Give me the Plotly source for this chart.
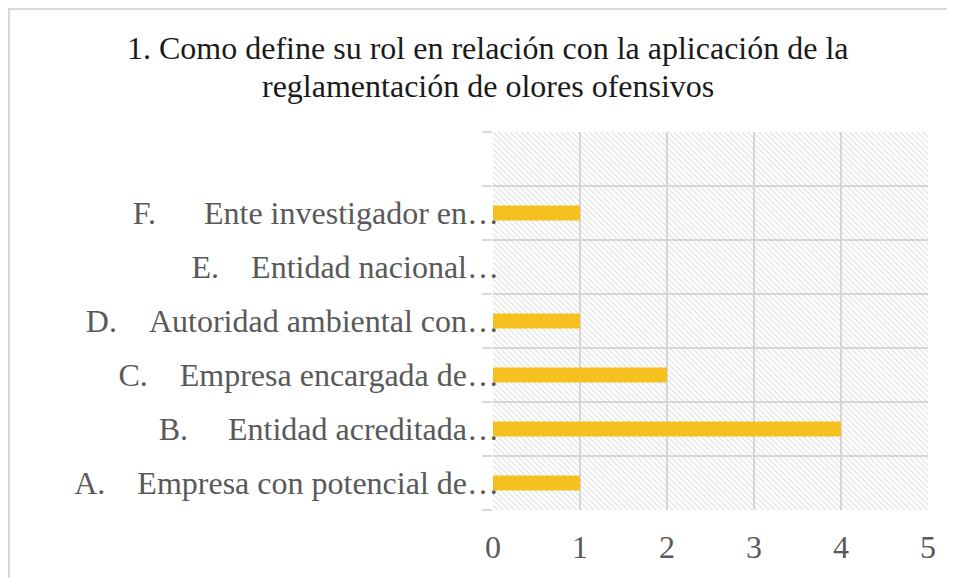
import plotly.graph_objects as go

NB = "\u00a0"
categories = [
    "A." + NB * 4 + "Empresa con potencial de…",
    "B." + NB * 5 + "Entidad acreditada…",
    "C." + NB * 4 + "Empresa encargada de…",
    "D." + NB * 4 + "Autoridad ambiental con…",
    "E." + NB * 4 + "Entidad nacional…",
    "F." + NB * 6 + "Ente investigador en…",
]
values = [1, 4, 2, 1, 0, 1]
x_ticks = [0, 1, 2, 3, 4, 5]
title_lines = [
    "1. Como define su rol en relación con la aplicación de la",
    "reglamentación de olores ofensivos",
]

n_bands = len(categories) + 1
positions = list(range(len(categories)))
band_edges = [i - 0.5 for i in range(n_bands + 1)]
xmax = x_ticks[-1]

SERIF = "Liberation Serif, Times New Roman, serif"

# page layout (figure pixels)
W, H = 955, 578
L, T, R, B = 485, 124, 35, 76
PW, PH = W - L - R, H - T - B

fig = go.Figure()

# hatched plot background
fig.add_trace(go.Scatter(
    x=[0, xmax, xmax, 0, 0],
    y=[band_edges[0], band_edges[0], band_edges[-1], band_edges[-1], band_edges[0]],
    mode="none", fill="toself", fillcolor="rgba(0,0,0,0)",
    fillpattern=dict(shape="\\", fgcolor="#c4c4c4", bgcolor="rgba(0,0,0,0)",
                     size=4, solidity=0.3),
    hoverinfo="skip", showlegend=False,
))

fig.add_trace(go.Bar(
    x=values, y=positions, orientation="h", width=0.28,
    marker=dict(color="#FFC000", line=dict(width=0)),
    showlegend=False,
))

title_centers_px = [48 - 8, 86 - 8]
title_cx = 488 - 8
annotations = [
    dict(text=line, xref="paper", yref="paper",
         x=(title_cx - L) / PW, y=(PH + T - cy) / PH,
         xanchor="center", yanchor="middle", showarrow=False,
         font=dict(size=32, color="#1a1a1a", family=SERIF))
    for line, cy in zip(title_lines, title_centers_px)
]

fig.update_layout(
    width=W, height=H,
    margin=dict(l=L, r=R, t=T, b=B),
    paper_bgcolor="white", plot_bgcolor="white",
    font=dict(family=SERIF, color="#595959"),
    xaxis=dict(range=[0, xmax], tickvals=x_ticks, ticks="", showline=False,
               showgrid=True, gridcolor="#d9d9d9", gridwidth=2, zeroline=False,
               tickfont=dict(size=32, color="#595959", family=SERIF),
               ticklabelstandoff=15, automargin=False, fixedrange=True),
    yaxis=dict(range=[band_edges[0], band_edges[-1]], tickvals=positions, ticktext=categories,
               ticks="", showgrid=False, zeroline=False, showline=False,
               tickfont=dict(size=32, color="#595959", family=SERIF), ticklabelstandoff=-7,
               automargin=False,
               minor=dict(tickvals=band_edges, showgrid=True, gridcolor="#d9d9d9", gridwidth=2,
                          ticks="outside", ticklen=10, tickcolor="#d9d9d9", tickwidth=2),
               fixedrange=True),
    annotations=annotations,
    shapes=[dict(type="rect", xref="paper", yref="paper",
                 x0=(1 - L) / PW, x1=(W + 40 - L) / PW,
                 y0=-(B + 40) / PH, y1=(PH + T - 1) / PH,
                 line=dict(color="#d9d9d9", width=2), fillcolor="rgba(0,0,0,0)", layer="below")],
)

fig.write_html("out.html")
